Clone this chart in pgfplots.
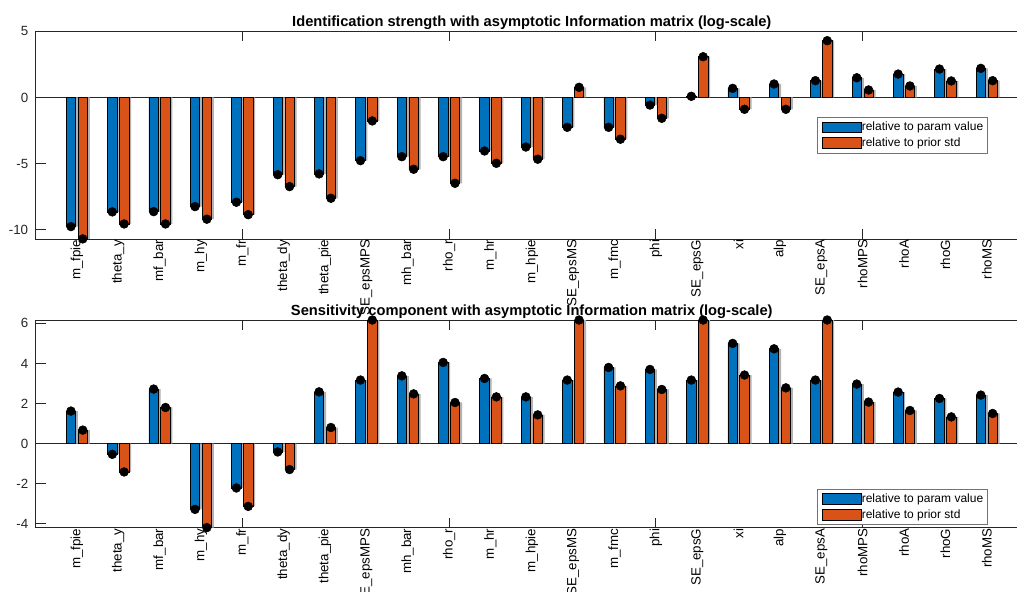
\documentclass[border=0pt]{standalone}
\usepackage{fontspec}
\setmainfont{Liberation Sans}
\usepackage{pgfplots}
\usepackage{pgfplotstable}
\pgfplotsset{compat=1.18}

\definecolor{mblue}{rgb}{0,0.447,0.741}
\definecolor{morange}{rgb}{0.85,0.325,0.098}
\definecolor{axgray}{rgb}{0.15,0.15,0.15}
\definecolor{shade}{rgb}{0.70,0.70,0.70}

% identification strength (log-scale)
\pgfplotstableread{
x  param   prior
1  -9.75  -10.68
2  -8.64  -9.55
3  -8.62  -9.55
4  -8.24  -9.19
5  -7.91  -8.85
6  -5.83  -6.73
7  -5.77  -7.61
8  -4.77  -1.77
9  -4.47  -5.42
10 -4.47  -6.48
11 -4.04  -4.97
12 -3.74  -4.66
13 -2.25   0.77
14 -2.25  -3.15
15 -0.57  -1.57
16  0.09   3.08
17  0.69  -0.89
18  1.02  -0.89
19  1.27   4.29
20  1.49   0.57
21  1.77   0.87
22  2.15   1.25
23  2.20   1.27
}\identtab

% sensitivity component (log-scale)
\pgfplotstableread{
x  param  prior
1  1.62   0.67
2  -0.54  -1.42
3  2.72   1.80
4  -3.29  -4.20
5  -2.22  -3.14
6  -0.42  -1.30
7  2.58   0.80
8  3.17   6.17
9  3.38   2.48
10 4.05   2.05
11 3.25   2.33
12 2.33   1.43
13 3.17   6.17
14 3.80   2.88
15 3.70   2.70
16 3.17   6.17
17 5.00   3.42
18 4.73   2.78
19 3.17   6.17
20 2.97   2.07
21 2.57   1.65
22 2.25   1.33
23 2.42   1.50
}\senstab

\pgfplotsset{
  barpanel/.style={
    scale only axis,
    width=744.45pt, height=155.7pt,
    xmin=0, xmax=24,
    clip=false,
    axis background/.style={fill=white},
    axis line style={axgray, line width=0.6pt},
    tick style={axgray, line width=0.6pt},
    major tick length=7.5pt,
    tick align=inside,
    font=\fontsize{10}{12}\selectfont,
    /pgf/number format/assume math mode=true,
    xtick={5,10,15,20},
    xticklabels={},
    extra x ticks={1,2,3,4,5,6,7,8,9,10,11,12,13,14,15,16,17,18,19,20,21,22,23},
    extra x tick labels={m\_fpie,theta\_y,mf\_bar,m\_hy,m\_fr,theta\_dy,theta\_pie,SE\_epsMPS,mh\_bar,rho\_r,m\_hr,m\_hpie,SE\_epsMS,m\_fmc,phi,SE\_epsG,xi,alp,SE\_epsA,rhoMPS,rhoA,rhoG,rhoMS},
    extra x tick style={major tick length=0pt,
      tick label style={rotate=90, anchor=east, inner sep=0pt, text=black, xshift=-0.6pt}},
    yticklabel style={anchor=east, inner sep=0pt, xshift=-5.3pt, text=axgray},
    title style={font=\bfseries\fontsize{11}{13}\selectfont, at={(0.5,1)}, anchor=base, yshift=-2.4pt},
    legend style={anchor=north west, draw=black!55, line width=0.4pt, fill=white,
      font=\fontsize{9}{10}\selectfont,
      inner xsep=3.2pt, inner ysep=3pt, row sep=3.2pt,
      nodes={inner sep=0pt, text height=6.6pt, text depth=1.8pt},
      /tikz/every even column/.style={column sep=2.3pt}},
    legend cell align=left,
  },
  barbox/.style={ybar, bar width=0.2286, draw=black, line width=0.5pt,
    legend image code/.code={\draw[##1, line width=0.5pt] (0pt,-4.1pt) rectangle (29.5pt,4.1pt);}},
  barshade/.style={ybar, bar width=0.2286, draw=none, fill=shade, forget plot},
  tipdot/.style={only marks, mark=*, mark size=3.3pt, black, mark options={line width=0.4pt}, forget plot},
}

\begin{document}
\begin{tikzpicture}
\begin{axis}[barpanel,
  at={(26.625pt,-23.475pt)}, anchor=north west,
  ymin=-10.68, ymax=5, ytick={-10,-5,0,5},
  title={Identification strength with asymptotic Information matrix (log-scale)},
  legend style={at={(0.7876,0.586)}}]
  \addplot[axgray, line width=0.6pt, forget plot] coordinates {(0,0) (24,0)};
  \addplot[barshade, bar shift=-0.088] table[x=x, y=param] {\identtab};
  \addplot[barshade, bar shift=0.198] table[x=x, y=prior] {\identtab};
  \addplot[barbox, fill=mblue, bar shift=-0.143] table[x=x, y=param] {\identtab};
  \addplot[barbox, fill=morange, bar shift=0.143] table[x=x, y=prior] {\identtab};
  \addplot[tipdot] table[x expr=\thisrow{x}-0.143, y=param] {\identtab};
  \addplot[tipdot] table[x expr=\thisrow{x}+0.143, y=prior] {\identtab};
  \legend{relative to param value, relative to prior std}
\end{axis}

\begin{axis}[barpanel,
  at={(26.625pt,-240pt)}, anchor=north west,
  ymin=-4.2, ymax=6.17, ytick={-4,-2,0,2,4,6},
  title={Sensitivity component with asymptotic Information matrix (log-scale)},
  legend style={at={(0.7876,0.186)}}]
  \addplot[axgray, line width=0.6pt, forget plot] coordinates {(0,0) (24,0)};
  \addplot[barshade, bar shift=-0.088] table[x=x, y=param] {\senstab};
  \addplot[barshade, bar shift=0.198] table[x=x, y=prior] {\senstab};
  \addplot[barbox, fill=mblue, bar shift=-0.143] table[x=x, y=param] {\senstab};
  \addplot[barbox, fill=morange, bar shift=0.143] table[x=x, y=prior] {\senstab};
  \addplot[tipdot] table[x expr=\thisrow{x}-0.143, y=param] {\senstab};
  \addplot[tipdot] table[x expr=\thisrow{x}+0.143, y=prior] {\senstab};
  \legend{relative to param value, relative to prior std}
\end{axis}
\pgfresetboundingbox
\path[use as bounding box] (0pt,0pt) rectangle (762.75pt,-444pt);
\end{tikzpicture}
\end{document}
